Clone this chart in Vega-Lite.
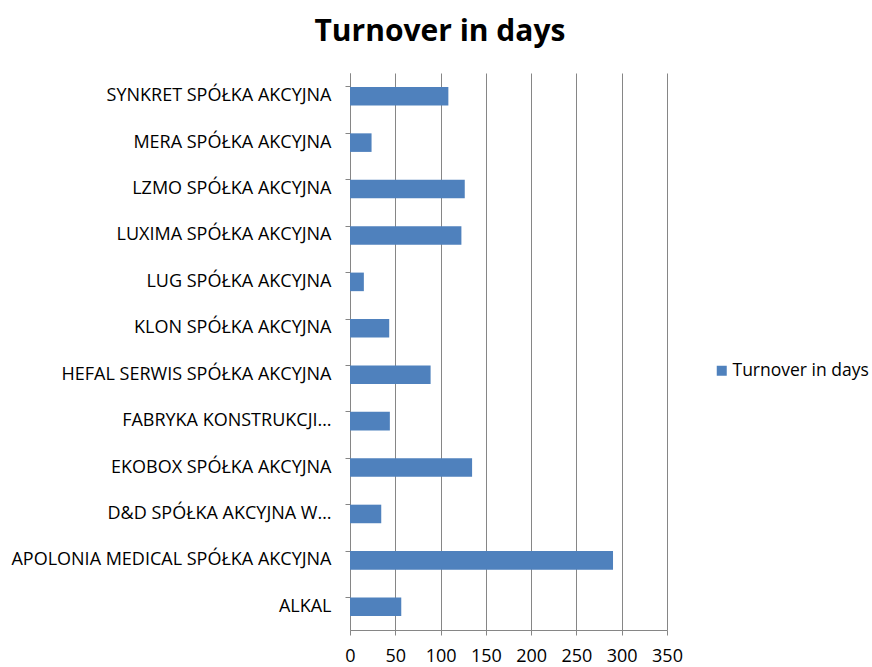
{
  "$schema": "https://vega.github.io/schema/vega-lite/v6.json",
  "width": 317,
  "height": 557,
  "padding": {"left": 10, "top": 17, "right": 0, "bottom": 0},
  "background": "white",
  "title": {
    "text": "Turnover in days",
    "font": "Open Sans",
    "fontSize": 30,
    "fontWeight": "bold",
    "color": "#000000",
    "anchor": "middle",
    "frame": "bounds",
    "offset": 26
  },
  "data": {
    "values": [
      {"company": "SYNKRET SPÓŁKA AKCYJNA", "days": 108.6},
      {"company": "MERA SPÓŁKA AKCYJNA", "days": 23.8},
      {"company": "LZMO SPÓŁKA AKCYJNA", "days": 126.7},
      {"company": "LUXIMA SPÓŁKA AKCYJNA", "days": 123},
      {"company": "LUG SPÓŁKA AKCYJNA", "days": 15.3},
      {"company": "KLON SPÓŁKA AKCYJNA", "days": 43.3},
      {"company": "HEFAL SERWIS SPÓŁKA AKCYJNA", "days": 89},
      {"company": "FABRYKA KONSTRUKCJI…", "days": 44},
      {"company": "EKOBOX SPÓŁKA AKCYJNA", "days": 134.8},
      {"company": "D&D SPÓŁKA AKCYJNA W…", "days": 34.5},
      {"company": "APOLONIA MEDICAL SPÓŁKA AKCYJNA", "days": 290.4},
      {"company": "ALKAL", "days": 56.6}
    ]
  },
  "mark": {"type": "bar"},
  "encoding": {
    "y": {
      "field": "company",
      "type": "nominal",
      "sort": null,
      "title": null,
      "scale": {"paddingInner": 0.6, "paddingOuter": 0.3},
      "axis": {
        "bandPosition": 0,
        "domainColor": "#868686",
        "tickColor": "#868686",
        "tickSize": 5,
        "labelFont": "Open Sans",
        "labelFontSize": 18,
        "labelColor": "#000000",
        "labelPadding": 14,
        "labelLimit": 400,
        "grid": false
      }
    },
    "x": {
      "field": "days",
      "type": "quantitative",
      "title": null,
      "scale": {"domain": [0, 350], "nice": false},
      "axis": {
        "values": [0, 50, 100, 150, 200, 250, 300, 350],
        "grid": true,
        "gridColor": "#868686",
        "domainColor": "#868686",
        "tickColor": "#868686",
        "tickSize": 5,
        "labelFont": "Open Sans",
        "labelFontSize": 18,
        "labelColor": "#000000",
        "labelPadding": 12,
        "labelFlush": false
      }
    },
    "color": {
      "datum": "Turnover in days",
      "type": "nominal",
      "scale": {"range": ["#4F81BD"]},
      "legend": {
        "title": null,
        "orient": "none",
        "legendX": 363,
        "legendY": 289,
        "symbolType": "square",
        "symbolSize": 100,
        "symbolStrokeWidth": 0,
        "labelFont": "Open Sans",
        "labelFontSize": 17.5,
        "labelColor": "#000000",
        "labelOffset": 2,
        "labelLimit": 300
      }
    }
  },
  "config": {"view": {"stroke": null}}
}
